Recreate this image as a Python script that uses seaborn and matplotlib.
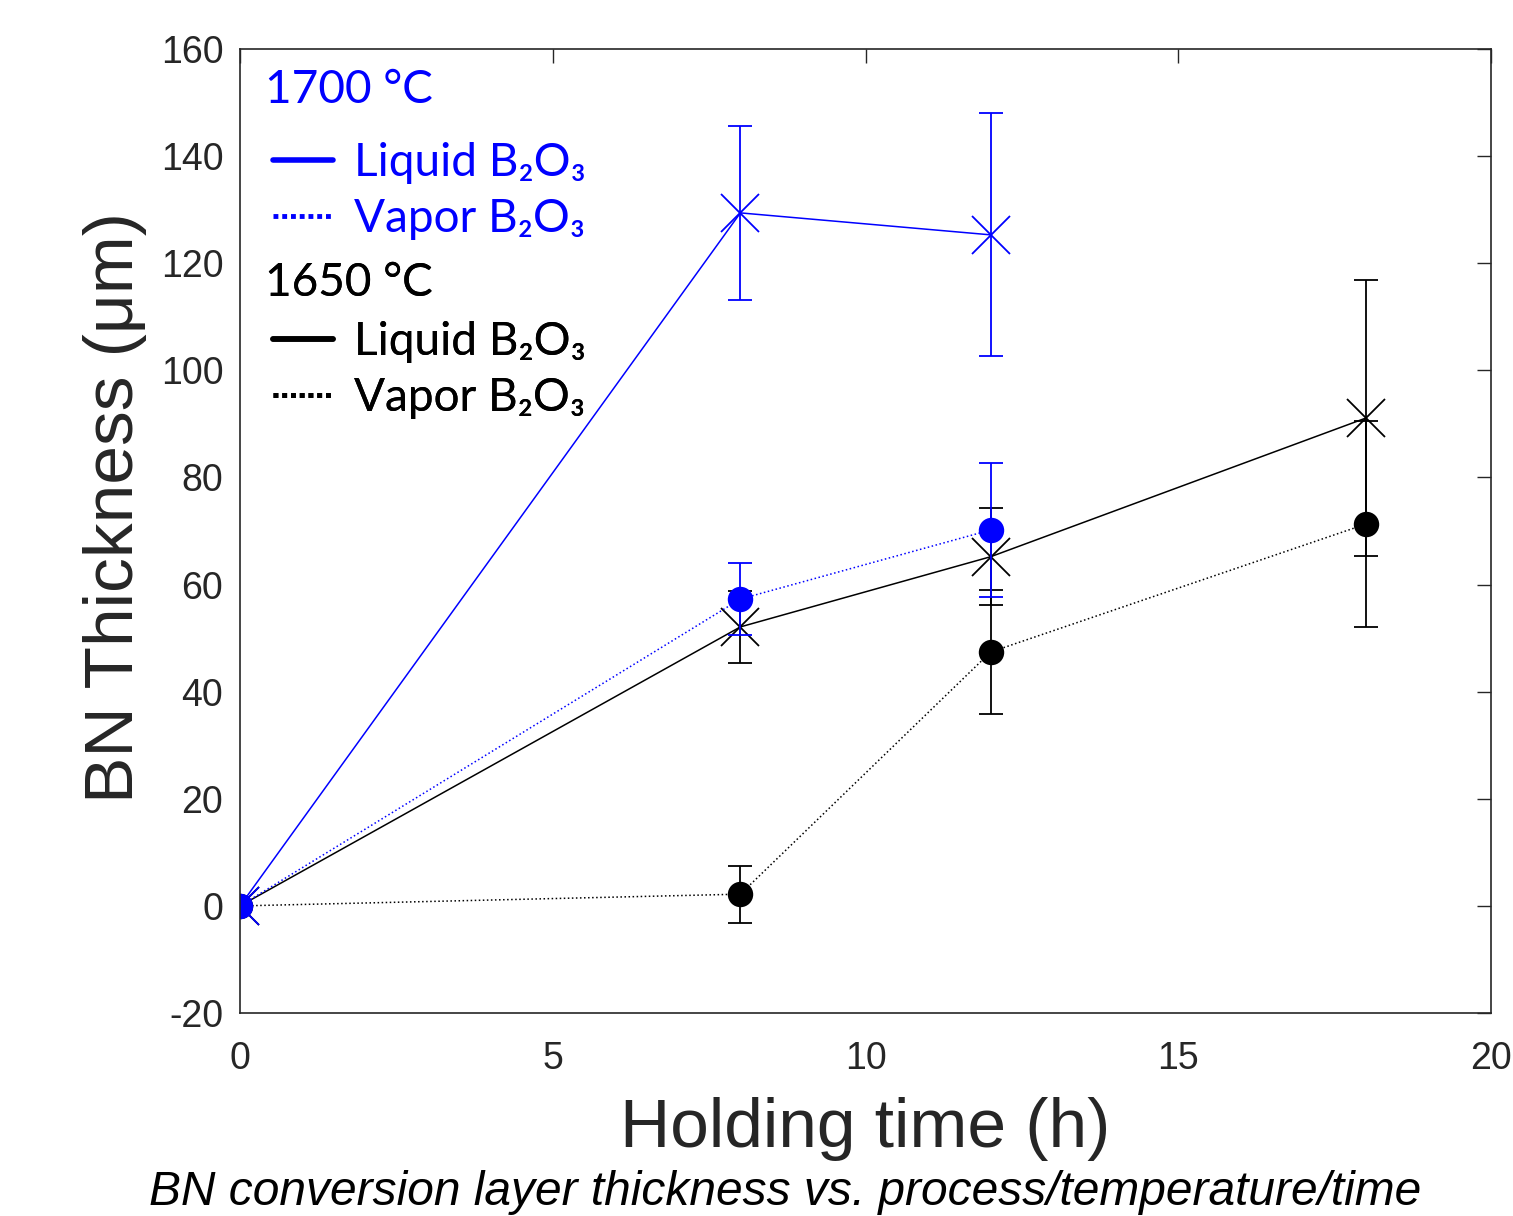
import matplotlib
matplotlib.use("Agg")
import matplotlib.pyplot as plt
from matplotlib.lines import Line2D
import seaborn as sns
import pandas as pd

# holding time (h) and BN thickness (um), mean +/- error
time_1700_liq = [0, 8, 12]
thk_1700_liq = [0, 129.4, 125.3]
err_1700_liq = [0, 16.3, 22.7]

time_1700_vap = [0, 8, 12]
thk_1700_vap = [0, 57.3, 70.2]
err_1700_vap = [0, 6.7, 12.5]

time_1650_liq = [0, 8, 12, 18]
thk_1650_liq = [0, 52.1, 65.2, 91.1]
err_1650_liq = [0, 6.7, 9.1, 25.8]

time_1650_vap = [0, 8, 12, 18]
thk_1650_vap = [0, 2.2, 47.4, 71.3]
err_1650_vap = [0, 5.3, 11.6, 19.2]

sns.set_style("white")
plt.rcParams["font.family"] = ["Liberation Sans", "DejaVu Sans"]
plt.rcParams["axes.edgecolor"] = "#262626"
plt.rcParams["axes.unicode_minus"] = False

fig = plt.figure(figsize=(15.13, 12.16), dpi=100)
ax = fig.add_axes([0.1586, 0.1669, 0.8269, 0.7928])

series = [
    (time_1650_vap, thk_1650_vap, err_1650_vap, "black", ":", "o"),
    (time_1650_liq, thk_1650_liq, err_1650_liq, "black", "-", "x"),
    (time_1700_vap, thk_1700_vap, err_1700_vap, "#0000ff", ":", "o"),
    (time_1700_liq, thk_1700_liq, err_1700_liq, "#0000ff", "-", "x"),
]

for t, y, e, c, ls, mk in series:
    df = pd.DataFrame({"t": t, "y": y})
    ms = 17 if mk == "o" else 27
    sns.lineplot(data=df, x="t", y="y", ax=ax, color=c, linestyle=ls, linewidth=1.1,
                 marker=mk, markersize=ms, markeredgewidth=1.3,
                 markeredgecolor=c, markerfacecolor=c)
    ax.errorbar(t, y, yerr=e, fmt="none", ecolor=c, elinewidth=1.3,
                capsize=8.3, capthick=1.3)

ax.set_xlim(0, 20)
ax.set_ylim(-20, 160)
ax.set_xticks([0, 5, 10, 15, 20])
ax.set_yticks(range(-20, 161, 20))
ax.tick_params(direction="in", length=10, width=1, top=True, right=True,
               labelsize=27, labelcolor="#262626", color="#262626")
ax.tick_params(axis="y", pad=12)
ax.tick_params(axis="x", pad=20)
for s in ax.spines.values():
    s.set_linewidth(1.2)

ax.set_xlabel("Holding time (h)", fontsize=50, color="#262626")
ax.set_ylabel("BN Thickness (\u03bcm)", fontsize=50, color="#262626")
ax.xaxis.set_label_coords(0.5, -0.087)
ax.yaxis.set_label_coords(-0.0744, 0.524)

leg_font = ["Lato", "Noto Sans", "DejaVu Sans"]
b23 = "B\u2082O\u2083"
legend_specs = [("1700 \u00b0C", "#0000ff", 0.979, 16), ("1650 \u00b0C", "black", 0.779, 6.5)]
for title, c, anchor, gap in legend_specs:
    handles = [Line2D([], [], color=c, linestyle="-", linewidth=4),
               Line2D([], [], color=c, linestyle=(0, (1, 0.8)), linewidth=3.5)]
    leg = ax.legend(handles, ["Liquid " + b23, "Vapor " + b23], loc="upper left",
                    bbox_to_anchor=(0.02, anchor), frameon=False,
                    prop={"family": leg_font, "size": 33}, title=title,
                    title_fontproperties={"family": leg_font, "size": 33},
                    alignment="left", handlelength=1.3, handletextpad=0.45,
                    labelspacing=0.3, borderpad=0, borderaxespad=0)
    leg._legend_handle_box.pad = 6
    leg._legend_box.sep = gap
    leg.get_title().set_color(c)
    for txt in leg.get_texts():
        txt.set_color(c)
    ax.add_artist(leg)

fig.text(0.519, 0.001, "BN conversion layer thickness vs. process/temperature/time",
         fontsize=34.5, style="italic", ha="center", va="bottom", color="black")

fig.savefig("out.png", dpi=100)
